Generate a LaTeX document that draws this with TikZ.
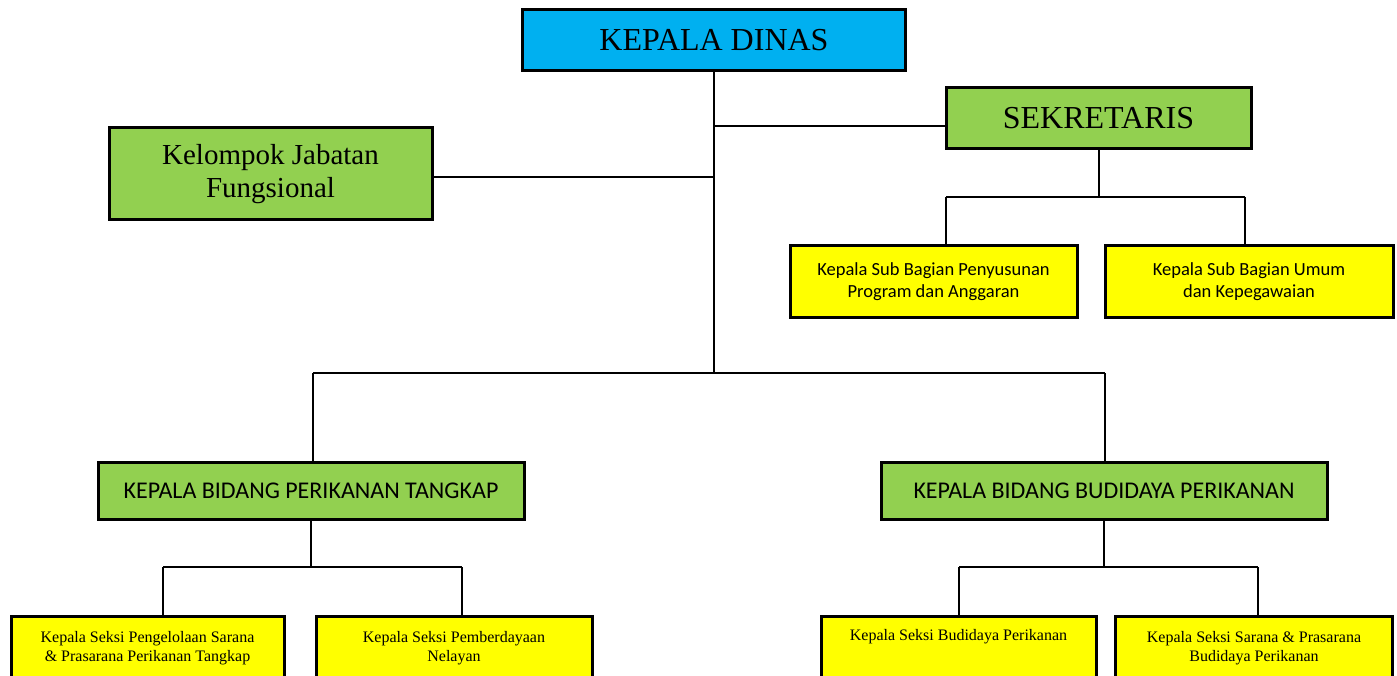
\documentclass[tikz,border=0pt]{standalone}
\usepackage{fontspec}
\setmainfont{Liberation Serif}
\newfontfamily\calibri{Carlito}
\definecolor{kcyan}{HTML}{00B0F0}
\definecolor{kgreen}{HTML}{92D050}
\definecolor{kyellow}{HTML}{FFFF00}
\begin{document}
\begin{tikzpicture}[x=1pt,y=-1pt,
  box/.style={draw=black, line width=3pt, inner sep=0pt, align=center},
  topbox/.style={box, fill=#1, font=\fontsize{32}{38}\selectfont},
  subbox/.style={box, fill=kyellow, font=\calibri\fontsize{18.5}{21.5}\selectfont},
  bidbox/.style={box, fill=kgreen, font=\calibri\fontsize{24}{28}\selectfont},
  seksibox/.style={box, fill=kyellow, minimum width=#1, minimum height=64pt, font=\fontsize{16}{19.5}\selectfont},
  link/.style={line width=2pt}]
\useasboundingbox (0,0) rectangle (1397,676);
\clip (0,0) rectangle (1397,676);

\coordinate (j1) at (714,373);
\coordinate (j2) at (714,126);
\coordinate (j3) at (714,177);
\coordinate (sbL) at (946,197);
\coordinate (sbR) at (1245,197);
\coordinate (btL) at (163,567);
\coordinate (btR) at (462,567);
\coordinate (bbL) at (959,567);
\coordinate (bbR) at (1258,567);
\coordinate (mainL) at (313,373);
\coordinate (mainR) at (1105,373);

% boxes
\node[topbox=kcyan, minimum width=383pt, minimum height=61pt] (kd) at (714,40.5) {KEPALA DINAS};
\node[topbox=kgreen, minimum width=305pt, minimum height=61pt] (sek) at (1098.5,118.5) {SEKRETARIS};
\node[box, fill=kgreen, minimum width=323pt, minimum height=92pt, font=\fontsize{29}{33}\selectfont] (kjf) at (270.5,174) {Kelompok Jabatan\\Fungsional};
\node[subbox, minimum width=287pt, minimum height=71pt] (sb1) at (933.5,281.5) {Kepala Sub Bagian Penyusunan\\Program dan Anggaran};
\node[subbox, minimum width=288pt, minimum height=71pt] (sb2) at (1249,281.5) {Kepala Sub Bagian Umum\\dan Kepegawaian};
\node[bidbox, minimum width=426pt, minimum height=57pt] (bt) at (311,490.5) {KEPALA BIDANG PERIKANAN TANGKAP};
\node[bidbox, minimum width=446pt, minimum height=57pt] (bb) at (1104,490.5) {KEPALA BIDANG BUDIDAYA PERIKANAN};
\node[seksibox=273pt] (s1) at (147.5,648) {Kepala Seksi Pengelolaan Sarana\\\& Prasarana Perikanan Tangkap};
\node[seksibox=276pt] (s2) at (454,648) {Kepala Seksi Pemberdayaan\\Nelayan};
\node[seksibox=275pt] (s3) at (958.5,648) {Kepala Seksi Budidaya Perikanan\\\strut};
\node[seksibox=277pt] (s4) at (1254,648) {Kepala Seksi Sarana \& Prasarana\\Budidaya Perikanan};

% connectors
\draw[link] (kd.south |- j1) -- (kd.south);
\draw[link] (j2) -- (j2 -| sek.west);
\draw[link] (j3) -- (j3 -| kjf.east);
\draw[link] (mainL) -- (mainR);
\draw[link] (mainL) -- (mainL |- bt.north);
\draw[link] (mainR) -- (mainR |- bb.north);
\draw[link] (sek.south) -- (sek.south |- sbL);
\draw[link] (sbL) -- (sbR);
\draw[link] (sbL) -- (sbL |- sb1.north);
\draw[link] (sbR) -- (sbR |- sb2.north);
\draw[link] (bt.south) -- (bt.south |- btL);
\draw[link] (btL) -- (btR);
\draw[link] (btL) -- (btL |- s1.north);
\draw[link] (btR) -- (btR |- s2.north);
\draw[link] (bb.south) -- (bb.south |- bbL);
\draw[link] (bbL) -- (bbR);
\draw[link] (bbL) -- (bbL |- s3.north);
\draw[link] (bbR) -- (bbR |- s4.north);
\end{tikzpicture}
\end{document}
